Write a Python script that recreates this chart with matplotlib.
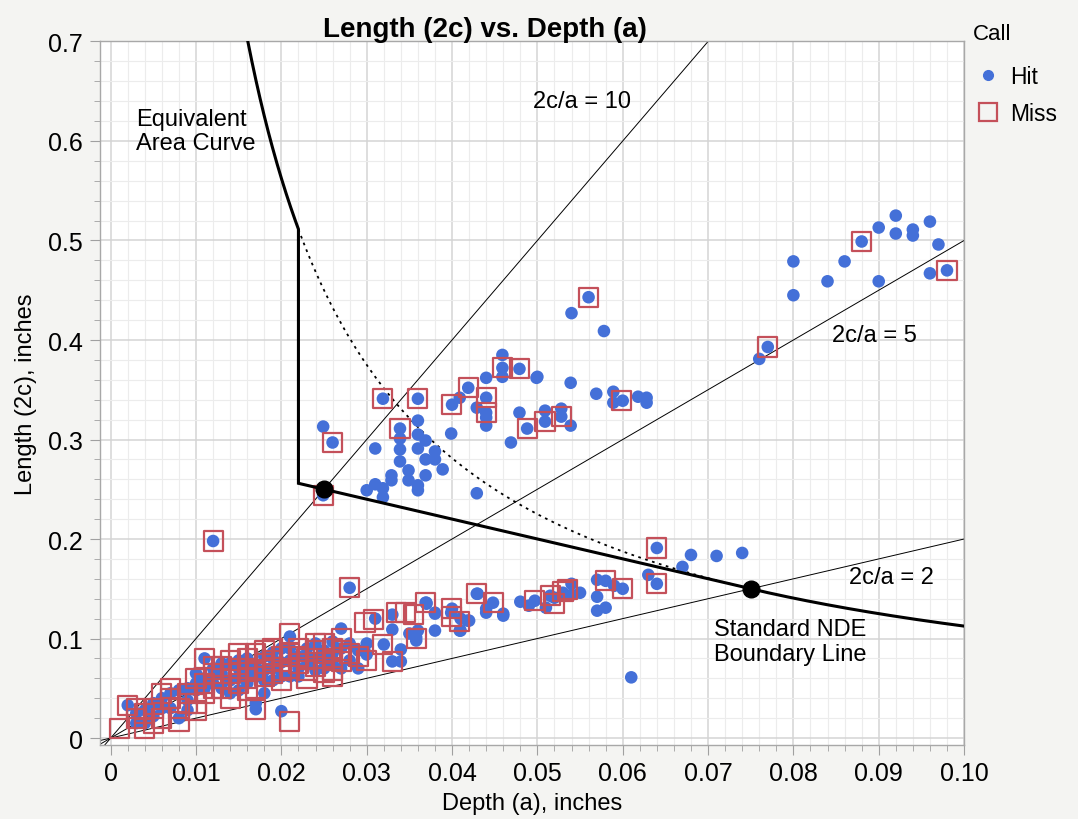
import numpy as np
import matplotlib.pyplot as plt
from matplotlib.ticker import MultipleLocator, FixedLocator
from matplotlib.lines import Line2D

plt.rcParams['font.family'] = ['Liberation Sans', 'DejaVu Sans']

# inspections called "Hit": depth a (in), length 2c (in)
hit_a = [
    # near-origin band
    0.002, 0.003, 0.004, 0.004, 0.005, 0.006, 0.007, 0.007, 0.008, 0.008,
    0.009, 0.009, 0.010, 0.010, 0.010, 0.011, 0.011, 0.012, 0.012, 0.013,
    0.013, 0.014, 0.014, 0.015, 0.015, 0.016, 0.016, 0.017, 0.017, 0.017,
    0.018, 0.018, 0.019, 0.019, 0.020, 0.020, 0.020, 0.021, 0.021, 0.021,
    0.022, 0.022, 0.023, 0.023, 0.024, 0.024, 0.025, 0.025, 0.026, 0.026,
    0.027, 0.027, 0.028, 0.028, 0.029, 0.029, 0.030, 0.030, 0.031, 0.032,
    0.033, 0.033, 0.033, 0.034, 0.034, 0.035, 0.0358, 0.0358, 0.036, 0.037,
    0.038, 0.038, 0.038, 0.037, 0.040, 0.041, 0.041, 0.042, 0.043, 0.044,
    0.0448, 0.044, 0.046, 0.046, 0.048, 0.049, 0.0497, 0.051, 0.0515, 0.052,
    0.053, 0.054, 0.054, 0.055, 0.057, 0.058, 0.057, 0.057, 0.058, 0.059,
    0.060, 0.061, 0.063, 0.064, 0.064, 0.067, 0.068, 0.071, 0.074, 0.028,
    0.012, 0.0399, 0.0429, 0.0418, 0.0409, 0.0369,
    0.012, 0.013, 0.014, 0.015, 0.016, 0.016, 0.017, 0.018, 0.018, 0.019,
    0.020, 0.021, 0.022, 0.023, 0.024, 0.025, 0.026, 0.027, 0.011, 0.009,
    0.006, 0.005, 0.003, 0.019, 0.015,
    # upper group
    0.0249, 0.0249, 0.026, 0.030, 0.031, 0.031, 0.0319, 0.0319, 0.0319, 0.0329,
    0.0329, 0.0339, 0.0339, 0.0339, 0.0339, 0.0349, 0.0349, 0.036, 0.036, 0.036,
    0.036, 0.036, 0.036, 0.0369, 0.0369, 0.0369, 0.038, 0.038, 0.0389, 0.0399,
    0.040, 0.0409, 0.0419, 0.0429, 0.044, 0.044, 0.044, 0.044, 0.044, 0.0459,
    0.0459, 0.0459, 0.0469, 0.0479, 0.0479, 0.0488, 0.0499, 0.050, 0.0509, 0.0509,
    0.0528, 0.0528, 0.0539, 0.0539, 0.054, 0.056, 0.0578, 0.0569, 0.0589, 0.0589,
    0.060, 0.0618, 0.0628, 0.0628, 0.0429,
    # right group
    0.076, 0.077, 0.080, 0.080, 0.084, 0.086, 0.088, 0.090, 0.090, 0.092,
    0.092, 0.094, 0.094, 0.096, 0.097, 0.096, 0.098,
]
hit_2c = [
    0.033, 0.025, 0.015, 0.028, 0.022, 0.040, 0.045, 0.030, 0.048, 0.020,
    0.038, 0.028, 0.048, 0.055, 0.065, 0.080, 0.060, 0.055, 0.070, 0.050,
    0.065, 0.075, 0.045, 0.062, 0.078, 0.065, 0.080, 0.035, 0.072, 0.029,
    0.045, 0.082, 0.070, 0.086, 0.076, 0.062, 0.027, 0.102, 0.090, 0.062,
    0.082, 0.070, 0.074, 0.090, 0.080, 0.095, 0.070, 0.088, 0.097, 0.075,
    0.110, 0.090, 0.078, 0.095, 0.088, 0.070, 0.084, 0.095, 0.120, 0.094,
    0.124, 0.109, 0.077, 0.077, 0.089, 0.105, 0.101, 0.098, 0.108, 0.135,
    0.125, 0.108, 0.126, 0.136, 0.130, 0.108, 0.120, 0.118, 0.145, 0.126,
    0.136, 0.130, 0.123, 0.125, 0.137, 0.133, 0.138, 0.131, 0.143, 0.141,
    0.146, 0.155, 0.144, 0.146, 0.159, 0.158, 0.142, 0.128, 0.131, 0.153,
    0.150, 0.061, 0.164, 0.191, 0.155, 0.172, 0.184, 0.183, 0.186, 0.151,
    0.198, 0.126, 0.145, 0.118, 0.108, 0.136,
    0.062, 0.075, 0.058, 0.070, 0.072, 0.055, 0.062, 0.068, 0.058, 0.080,
    0.090, 0.078, 0.062, 0.082, 0.068, 0.078, 0.085, 0.070, 0.050, 0.050,
    0.030, 0.035, 0.015, 0.058, 0.048,
    0.313, 0.244, 0.297, 0.249, 0.255, 0.291, 0.251, 0.242, 0.341, 0.264,
    0.259, 0.311, 0.301, 0.290, 0.278, 0.269, 0.259, 0.341, 0.319, 0.305,
    0.291, 0.254, 0.249, 0.299, 0.280, 0.264, 0.288, 0.280, 0.270, 0.306,
    0.335, 0.342, 0.352, 0.332, 0.362, 0.342, 0.327, 0.322, 0.314, 0.385,
    0.372, 0.363, 0.297, 0.371, 0.327, 0.311, 0.362, 0.363, 0.329, 0.318,
    0.331, 0.323, 0.357, 0.314, 0.427, 0.443, 0.409, 0.346, 0.348, 0.337,
    0.339, 0.343, 0.337, 0.342, 0.246,
    0.381, 0.393, 0.479, 0.445, 0.459, 0.479, 0.499, 0.513, 0.459, 0.525,
    0.507, 0.511, 0.505, 0.519, 0.496, 0.467, 0.470,
]

# inspections called "Miss"
miss_a = [
    0.001, 0.002, 0.003, 0.004, 0.004, 0.005, 0.006, 0.006, 0.007, 0.007,
    0.008, 0.008, 0.009, 0.010, 0.010, 0.011, 0.011, 0.011, 0.012, 0.012,
    0.013, 0.013, 0.014, 0.014, 0.015, 0.015, 0.015, 0.016, 0.016, 0.017,
    0.017, 0.017, 0.018, 0.018, 0.019, 0.019, 0.020, 0.020, 0.021, 0.021,
    0.021, 0.022, 0.022, 0.023, 0.023, 0.024, 0.024, 0.025, 0.025, 0.026,
    0.026, 0.026, 0.027, 0.027, 0.028, 0.029, 0.030, 0.021, 0.012, 0.028,
    0.0298, 0.0308, 0.0319, 0.033, 0.0335, 0.0345, 0.0355, 0.0358, 0.0369, 0.0399,
    0.0399, 0.0409, 0.0429, 0.0449, 0.0497, 0.0515, 0.052, 0.053, 0.0535, 0.058,
    0.060, 0.064, 0.064,
    0.012, 0.013, 0.014, 0.016, 0.016, 0.017, 0.018, 0.019, 0.020, 0.022,
    0.023, 0.024, 0.025, 0.026, 0.027, 0.010, 0.009, 0.005, 0.003,
    0.0249, 0.026, 0.0319, 0.0339, 0.036, 0.0399, 0.0419, 0.044, 0.044, 0.0459,
    0.0479, 0.0488, 0.0509, 0.0528, 0.056, 0.0599, 0.077, 0.088, 0.098,
]
miss_2c = [
    0.010, 0.033, 0.020, 0.010, 0.025, 0.030, 0.045, 0.020, 0.050, 0.040,
    0.030, 0.017, 0.045, 0.035, 0.028, 0.080, 0.055, 0.045, 0.065, 0.050,
    0.060, 0.072, 0.040, 0.065, 0.085, 0.070, 0.055, 0.070, 0.060, 0.085,
    0.029, 0.050, 0.075, 0.088, 0.065, 0.078, 0.082, 0.058, 0.105, 0.085,
    0.070, 0.075, 0.090, 0.068, 0.080, 0.088, 0.072, 0.080, 0.095, 0.090,
    0.068, 0.062, 0.077, 0.100, 0.085, 0.082, 0.078, 0.017, 0.198, 0.151,
    0.116, 0.119, 0.094, 0.077, 0.126, 0.126, 0.124, 0.100, 0.136, 0.130,
    0.122, 0.117, 0.145, 0.136, 0.138, 0.143, 0.135, 0.147, 0.149, 0.158,
    0.150, 0.191, 0.155,
    0.072, 0.050, 0.078, 0.080, 0.048, 0.068, 0.062, 0.090, 0.068, 0.082,
    0.060, 0.095, 0.066, 0.078, 0.088, 0.060, 0.035, 0.015, 0.030,
    0.244, 0.297, 0.341, 0.311, 0.341, 0.335, 0.352, 0.342, 0.327, 0.372,
    0.371, 0.311, 0.318, 0.323, 0.443, 0.339, 0.393, 0.499, 0.470,
]

ratio_lines = [10, 5, 2]
ratio_labels = ['2c/a = 10', '2c/a = 5', '2c/a = 2']
ratio_label_xy = [(0.0495, 0.64), (0.0845, 0.405), (0.0865, 0.162)]

area_const = 0.075 * 0.15          # 2c * a along the equivalent area curve
knee_a = 0.022
nde_points_a = [0.025, 0.075]
nde_points_2c = [0.25, 0.15]

BLUE = '#4470d8'
RED = '#c4505a'

fig = plt.figure(figsize=(10.78, 8.2), dpi=100, facecolor='#f4f4f2')
ax = fig.add_axes([0.0924, 0.0906, 0.8019, 0.8576])
ax.set_facecolor('white')

xmin, xmax = -0.0013, 0.10
ymin, ymax = -0.0067, 0.70

# 2c/a ratio lines from the origin
xs = np.array([-0.003, 0.1])
for r in ratio_lines:
    ax.plot(xs, r * xs, color='black', lw=0.7, zorder=2)

# equivalent area curve, dotted where the boundary cuts across
ca = np.linspace(knee_a, 0.075, 200)
ax.plot(ca, area_const / ca, color='black', lw=1.3, ls=(0, (1.5, 2.5)), zorder=2)

# standard NDE boundary line
slope = (nde_points_2c[1] - nde_points_2c[0]) / (nde_points_a[1] - nde_points_a[0])
knee_low = nde_points_2c[0] + slope * (knee_a - nde_points_a[0])
top_a = np.linspace(area_const / ymax, knee_a, 100)
right_a = np.linspace(0.075, 0.1, 100)
bx = np.concatenate([top_a, [knee_a, knee_a], [0.075], right_a])
by = np.concatenate([area_const / top_a, [area_const / knee_a, knee_low], [0.15],
                     area_const / right_a])
ax.plot(bx, by, color='black', lw=2.2, zorder=5, solid_joinstyle='miter')

ax.scatter(hit_a, hit_2c, s=82, color=BLUE, edgecolors='none', zorder=3)
ax.scatter(miss_a, miss_2c, s=190, marker='s', facecolors='none',
           edgecolors=RED, linewidths=1.6, zorder=4)

ax.plot(nde_points_a, nde_points_2c, 'o', color='black', ms=12, zorder=6)

for (tx, ty), lab in zip(ratio_label_xy, ratio_labels):
    ax.text(tx, ty, lab, fontsize=17, ha='left', va='center', zorder=7)
ax.text(0.003, 0.610, 'Equivalent\nArea Curve', fontsize=17, ha='left',
        va='center', linespacing=1.15, zorder=7)
ax.text(0.0707, 0.097, 'Standard NDE\nBoundary Line', fontsize=17, ha='left',
        va='center', linespacing=1.15, zorder=7)

ax.set_xlim(xmin, xmax)
ax.set_ylim(ymin, ymax)
ax.xaxis.set_major_locator(FixedLocator(np.arange(0, 0.1001, 0.01)))
ax.xaxis.set_minor_locator(MultipleLocator(0.002))
ax.yaxis.set_major_locator(FixedLocator(np.arange(0, 0.7001, 0.1)))
ax.yaxis.set_minor_locator(MultipleLocator(0.02))
ax.set_xticklabels(['0'] + ['%.2f' % v for v in np.arange(0.01, 0.1001, 0.01)])
ax.set_yticklabels(['0'] + ['%.1f' % v for v in np.arange(0.1, 0.7001, 0.1)])
ax.tick_params(which='major', length=7, color='#a0a0a0', labelsize=18, pad=5)
ax.tick_params(which='minor', length=4, color='#a0a0a0')
ax.grid(which='major', color='#d4d4d4', lw=1.1, zorder=0)
ax.grid(which='minor', color='#ececec', lw=0.8, zorder=0)
ax.set_axisbelow(True)
for sp in ax.spines.values():
    sp.set_color('#a8a8a8')
    sp.set_linewidth(1.0)

ax.set_xlabel('Depth (a), inches', fontsize=17, labelpad=5)
ax.set_ylabel('Length (2c), inches', fontsize=17, labelpad=8)
fig.text(0.45, 0.964, 'Length (2c) vs. Depth (a)', fontsize=20,
         fontweight='bold', ha='center', va='center')

# legend: title placed on its own, entries below
fig.text(0.9026, 0.958, 'Call', fontsize=16, ha='left', va='center')
handles = [
    Line2D([], [], marker='o', ls='none', color=BLUE, ms=7),
    Line2D([], [], marker='s', ls='none', mfc='none', mec=RED, mew=1.6, ms=13),
]
fig.legend(handles, ['Hit', 'Miss'], loc='upper left',
           bbox_to_anchor=(0.9026, 0.920), frameon=False, fontsize=16.5,
           handlelength=1.3, handletextpad=0.3, labelspacing=0.65,
           borderaxespad=0, borderpad=0)

fig.savefig('out.png', dpi=100, facecolor=fig.get_facecolor())
